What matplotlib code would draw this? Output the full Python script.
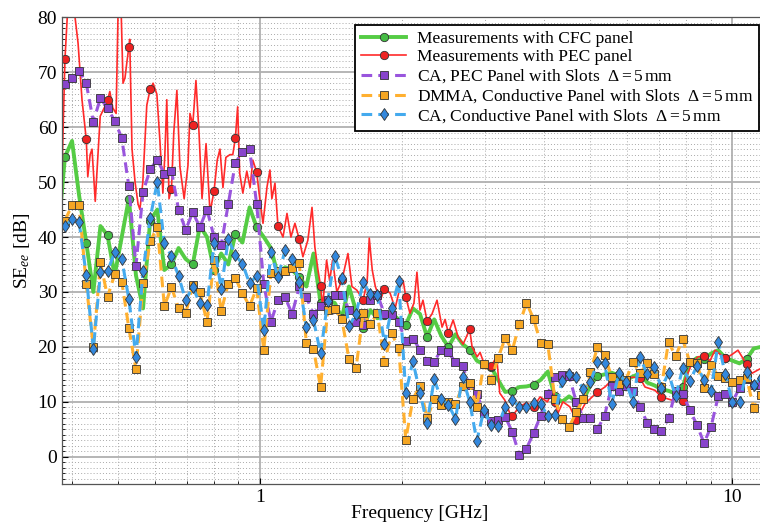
import numpy as np
import matplotlib as mpl
mpl.use("Agg")
import matplotlib.pyplot as plt
from matplotlib.ticker import MultipleLocator, LogLocator, NullFormatter

mpl.rcParams["font.family"] = "Liberation Serif"
mpl.rcParams["mathtext.fontset"] = "custom"
mpl.rcParams["mathtext.rm"] = "Liberation Serif"
mpl.rcParams["mathtext.it"] = "Liberation Serif:italic"

# common frequency grid (GHz)
freq_ghz = [0.3865, 0.4001, 0.4142, 0.4288, 0.4439, 0.4595, 0.4757, 0.4925, 0.5098, 0.5278,
            0.5464, 0.5656, 0.5855, 0.6062, 0.6275, 0.6496, 0.6725, 0.6962, 0.7207, 0.7461,
            0.7724, 0.7996, 0.8278, 0.8569, 0.8871, 0.9184, 0.9507, 0.9842, 1.0189, 1.0548,
            1.0919, 1.1304, 1.1702, 1.2114, 1.2541, 1.2983, 1.3440, 1.3913, 1.4403, 1.4911,
            1.5436, 1.5980, 1.6542, 1.7125, 1.7728, 1.8353, 1.8999, 1.9668, 2.0361, 2.1078,
            2.1821, 2.2589, 2.3385, 2.4209, 2.5061, 2.5944, 2.6858, 2.7804, 2.8784, 2.9797,
            3.0847, 3.1934, 3.3058, 3.4223, 3.5428, 3.6676, 3.7968, 3.9305, 4.0690, 4.2123,
            4.3607, 4.5143, 4.6733, 4.8379, 5.0083, 5.1848, 5.3674, 5.5565, 5.7522, 5.9548,
            6.1646, 6.3817, 6.6065, 6.8392, 7.0801, 7.3295, 7.5877, 7.8550, 8.1317, 8.4181,
            8.7146, 9.0216, 9.3394, 9.6684, 10.009, 10.361, 10.726, 11.104, 11.495]

# Measurements with CFC panel
cfc_freq = [0.3734] + freq_ghz
cfc_se = [40, 54.6, 57.5, 47.5, 39, 30, 42, 40.3, 33, 40, 47,
          33, 27, 43, 45, 34, 35, 38, 36, 35, 42,
          40, 34, 37, 35, 40.5, 39, 45.4, 41.8, 40, 38,
          33, 34.5, 34, 32.7, 31, 37, 28, 28.5, 28, 25.3,
          31, 26.5, 23.4, 26.7, 25.2, 25.8, 26.1, 25, 24, 27,
          26, 21.8, 25, 22, 20, 22.3, 20.5, 19.5, 17.5, 16.8,
          16.4, 14, 11.8, 12, 12.7, 12.8, 13.1, 14, 15.5, 11,
          10, 11, 10, 10.3, 13, 14.7, 15, 15.3, 14.8, 14,
          14.6, 15.2, 13.5, 13, 12.3, 12, 11.5, 12.7, 17, 18,
          17.8, 18.8, 19.4, 18, 17.5, 17, 17.8, 19.7, 20]

# Measurements with PEC panel
pec_freq = [0.381, 0.3865, 0.392, 0.400, 0.406, 0.412, 0.420, 0.4288, 0.432, 0.437,
            0.441, 0.448, 0.459, 0.468, 0.4757, 0.481, 0.488, 0.496, 0.501, 0.508,
            0.513, 0.518, 0.523, 0.5278, 0.530, 0.536, 0.544, 0.552, 0.557, 0.565,
            0.576, 0.5855, 0.594, 0.605, 0.614, 0.623, 0.629, 0.635, 0.642, 0.6496,
            0.657, 0.667, 0.677, 0.691, 0.704, 0.711, 0.7207, 0.732, 0.743, 0.754,
            0.769, 0.784, 0.7996, 0.812, 0.823, 0.835, 0.847, 0.864, 0.876, 0.8871,
            0.897, 0.906, 0.920, 0.938, 0.953, 0.966, 0.9842, 1.000, 1.015, 1.035,
            1.050, 1.060, 1.076, 1.0919, 1.119, 1.141, 1.163, 1.186, 1.2114, 1.233,
            1.263, 1.289, 1.307, 1.327, 1.3440, 1.358, 1.384, 1.405, 1.425, 1.455,
            1.4911, 1.536, 1.566, 1.605, 1.6542, 1.687, 1.704, 1.729, 1.755, 1.798,
            1.8353, 1.886, 1.933, 1.980, 2.010, 2.0361, 2.078, 2.119, 2.150, 2.182,
            2.214, 2.2589, 2.314, 2.371, 2.430, 2.466, 2.5061, 2.565, 2.628, 2.693,
            2.7804, 2.813, 2.883, 2.925, 2.997, 3.0847, 3.172, 3.219, 3.300, 3.382,
            3.4223, 3.541, 3.664, 3.7968, 3.920, 4.061, 4.183, 4.2123, 4.274, 4.380,
            4.530, 4.6733, 4.883, 5.1848, 5.377, 5.563, 5.7522, 5.926, 6.154, 6.3817,
            6.535, 6.862, 7.0801, 7.455, 7.676, 7.8550, 7.944, 8.219, 8.463, 8.7146,
            8.977, 9.194, 9.6684, 9.941, 10.285, 10.726, 11.012, 11.45]
pec_se = [52, 72.4, 82, 82, 80, 75.3, 65, 57.8, 51, 55,
          56, 46.5, 62, 63.5, 64.9, 66.5, 63.5, 62.5, 82, 82,
          68, 69, 72, 74.6, 76, 56, 50, 46, 45, 50,
          64, 66.9, 68, 66, 57.6, 48, 55, 65, 47, 48.7,
          59, 66.7, 52.8, 47, 53, 62.5, 60.4, 68.5, 59, 47,
          57, 44.5, 48.4, 54, 56, 49, 54.5, 55, 55, 58,
          63.7, 51.6, 48, 52, 49, 54, 51.8, 46.7, 42.5, 49.1,
          52.2, 47, 49.8, 42, 40, 44.3, 40, 42.5, 39.6, 36.4,
          39.4, 45.4, 38.2, 34, 31.1, 27.3, 35.8, 32, 35.8, 30,
          32.1, 37, 31, 30.3, 28.5, 32.1, 39.8, 34, 31, 28.5,
          30.5, 29.8, 27, 30.9, 32.1, 29.1, 26.1, 28, 33.6, 26.7,
          28.5, 24.7, 26, 28.5, 23.6, 25, 22.5, 24.9, 21.8, 20.5,
          23.2, 20, 18.2, 19, 16.4, 16.5, 18.2, 11.6, 10.3, 7.9,
          7.4, 9.1, 9.8, 9.1, 10.9, 10, 12.2, 10, 7.9, 10,
          9.1, 6.7, 9.7, 11.8, 12.7, 14, 12.1, 14, 14.5, 14.3,
          12.7, 12.1, 10.9, 10.3, 11, 10.1, 14, 17, 18.2, 18.3,
          17.5, 19.4, 17.9, 18.5, 19.4, 16.8, 15.2, 16]

# CA, PEC panel with slots
ca_pec_se = [67.8, 69, 70.3, 68, 61, 65.3, 63.4, 61.2, 58, 49.2,
             34.8, 48.2, 52.3, 54.1, 51.5, 52, 45, 41.3, 44.5, 41.8,
             45, 40, 38.5, 46, 53.5, 55.5, 56, 46, 31.5, 24.5,
             28.5, 29, 26, 31, 29, 26, 27.5, 28.5, 29.4, 29.5,
             26.8, 24.5, 24, 28.5, 29.5, 26, 25.8, 24.5, 21, 21.5,
             19.5, 17.4, 17.3, 19.5, 19, 17.2, 16.5, 13, 11.5, 8,
             6.5, 6.7, 7.3, 4.5, 0.3, 1.5, 4.3, 7.5, 11.5, 14.5,
             14.9, 14.7, 10, 7.1, 7.1, 5, 7.5, 12.8, 12, 12.8,
             12, 9, 6.2, 5, 4.6, 7, 12, 11.5, 8.5, 5.8,
             2.5, 5.5, 11, 11.5, 10, 12.5, 14.2, 13, 13]

# DMMA, conductive panel with slots
dmma_se = [43, 45.8, 45.8, 31.4, 19.9, 35.4, 29.1, 33.2, 31.9, 23.4,
           15.9, 31.6, 39.2, 41.8, 27.4, 30.9, 27, 26.1, 31.2, 30,
           24.5, 35.8, 26.5, 31.5, 32.5, 29.8, 27.4, 30.7, 19.4, 33.4,
           33.8, 33.8, 34.3, 35.2, 20.7, 19.6, 12.7, 26.7, 26.9, 25,
           17.8, 16.2, 26.1, 24.1, 26.1, 17.2, 22.5, 19.8, 3.1, 10.5,
           12.9, 7, 10.5, 9.4, 10, 9.6, 12.9, 13.4, 9.1, 16.9,
           14, 18, 21.6, 19.4, 24.1, 28, 25.1, 20.7, 20.5, 10.5,
           6.9, 5.4, 8.1, 10.5, 15.4, 20, 18.5, 14.5, 13.2, 14,
           17.2, 15.2, 17, 15, 12.7, 20.9, 18.3, 21.4, 17.2, 17,
           12.5, 16.7, 14.7, 14.3, 13.6, 14, 14.3, 8.9, 11.2]

# CA, conductive panel with slots
ca_cond_se = [42, 43.2, 42.7, 33, 19.6, 33.6, 33.8, 37.2, 36, 28.7,
              18.2, 33.8, 43.4, 50, 38.9, 36.5, 32.9, 28.5, 30.9, 27.9,
              27.6, 38.9, 30.5, 39.6, 36.7, 35.1, 31.6, 32.9, 23.1, 37.2,
              32.7, 37.6, 36, 31.8, 23.6, 24.9, 18.8, 28.3, 36.5, 32.5,
              23.8, 26, 31.8, 29.6, 29.4, 20.5, 27, 32, 11.6, 17.4,
              11.6, 6.1, 14.1, 10.5, 9.5, 6.9, 14.5, 10, 2.9, 8.5,
              5.8, 5.6, 9.1, 10.3, 9.1, 9.1, 9.7, 9.6, 7.4, 7.6,
              13.8, 15.1, 14.5, 12.3, 13.6, 17.2, 17, 9.6, 15.2, 13.6,
              10, 18.1, 15, 16.3, 12.5, 15.2, 11, 16.1, 13.8, 16.5,
              14, 11.9, 20.9, 15, 10, 10, 15.4, 13.1, 14.3]

labels = ["Measurements with CFC panel",
          "Measurements with PEC panel",
          r"CA, PEC Panel with Slots  $\Delta = 5\,\mathrm{mm}$",
          r"DMMA, Conductive Panel with Slots  $\Delta = 5\,\mathrm{mm}$",
          r"CA, Conductive Panel with Slots  $\Delta = 5\,\mathrm{mm}$"]

# measured curves carry a marker on every third grid frequency
mk_freqs = set(freq_ghz[::3])
pec_mk = [i for i, f in enumerate(pec_freq) if f in mk_freqs]

fig = plt.figure(figsize=(7.6, 5.31), dpi=100)
ax = fig.add_axes([0.0816, 0.0881, 0.9184, 0.8793])

ax.plot(cfc_freq, cfc_se, '-', color='#55cc44', lw=2.8, marker='o', ms=6,
        mfc='#44bb44', mec='#333333', mew=0.6, markevery=(1, 3), label=labels[0])
ax.plot(pec_freq, pec_se, '-', color='#ff2a2a', lw=1.2, marker='o', ms=6,
        mfc='#ee2222', mec='#333333', mew=0.6, markevery=pec_mk, label=labels[1])
ax.plot(freq_ghz, ca_pec_se, '--', color='#9955dd', lw=2.2, dashes=(3.5, 2),
        marker='s', ms=5.5, mfc='#8844cc', mec='#333333', mew=0.6, label=labels[2])
ax.plot(freq_ghz, dmma_se, '--', color='#ffb030', lw=2.2, dashes=(3.5, 2),
        marker='s', ms=5.5, mfc='#f5a623', mec='#333333', mew=0.6, label=labels[3])
ax.plot(freq_ghz, ca_cond_se, '--', color='#44aaee', lw=2.2, dashes=(3.5, 2),
        marker='d', ms=6.5, mfc='#3388dd', mec='#333333', mew=0.6, label=labels[4])

ax.set_xscale('log')
ax.set_xlim(0.381, 11.45)
ax.set_ylim(-5, 80)
ax.set_xticks([1, 10])
ax.set_xticklabels(['1', '10'])
ax.xaxis.set_minor_locator(LogLocator(base=10, subs=np.arange(2, 10)))
ax.xaxis.set_minor_formatter(NullFormatter())
ax.yaxis.set_major_locator(MultipleLocator(10))
ax.yaxis.set_minor_locator(MultipleLocator(1))

ax.grid(which='major', color='#b0b0b0', lw=1.3, ls='-')
ax.grid(which='minor', color='#a8a8a8', lw=0.7, ls=(0, (1, 2.2)))
ax.set_axisbelow(True)
ax.tick_params(which='both', direction='in', labelsize=14, top=False, right=False)
ax.tick_params(which='major', length=4)
ax.tick_params(which='minor', length=2.5)
for s in ['left', 'top', 'bottom']:
    ax.spines[s].set_color('#555555')
    ax.spines[s].set_linewidth(0.9)
ax.spines['right'].set_visible(False)

ax.set_xlabel("Frequency [GHz]", fontsize=14, labelpad=2)
ax.set_ylabel(r"SE$_{ee}$ [dB]", fontsize=14, labelpad=4)
ax.xaxis.set_label_coords(0.513, -0.045)

leg = ax.legend(loc='upper left', bbox_to_anchor=(0.467, 0.953), bbox_transform=fig.transFigure,
                fontsize=12.5, frameon=True, fancybox=False, edgecolor='black', framealpha=1,
                borderaxespad=0, handlelength=2.6, handletextpad=0.6, labelspacing=0.12,
                borderpad=0.35)
leg.get_frame().set_linewidth(1.3)

fig.savefig("out.png", dpi=100)
